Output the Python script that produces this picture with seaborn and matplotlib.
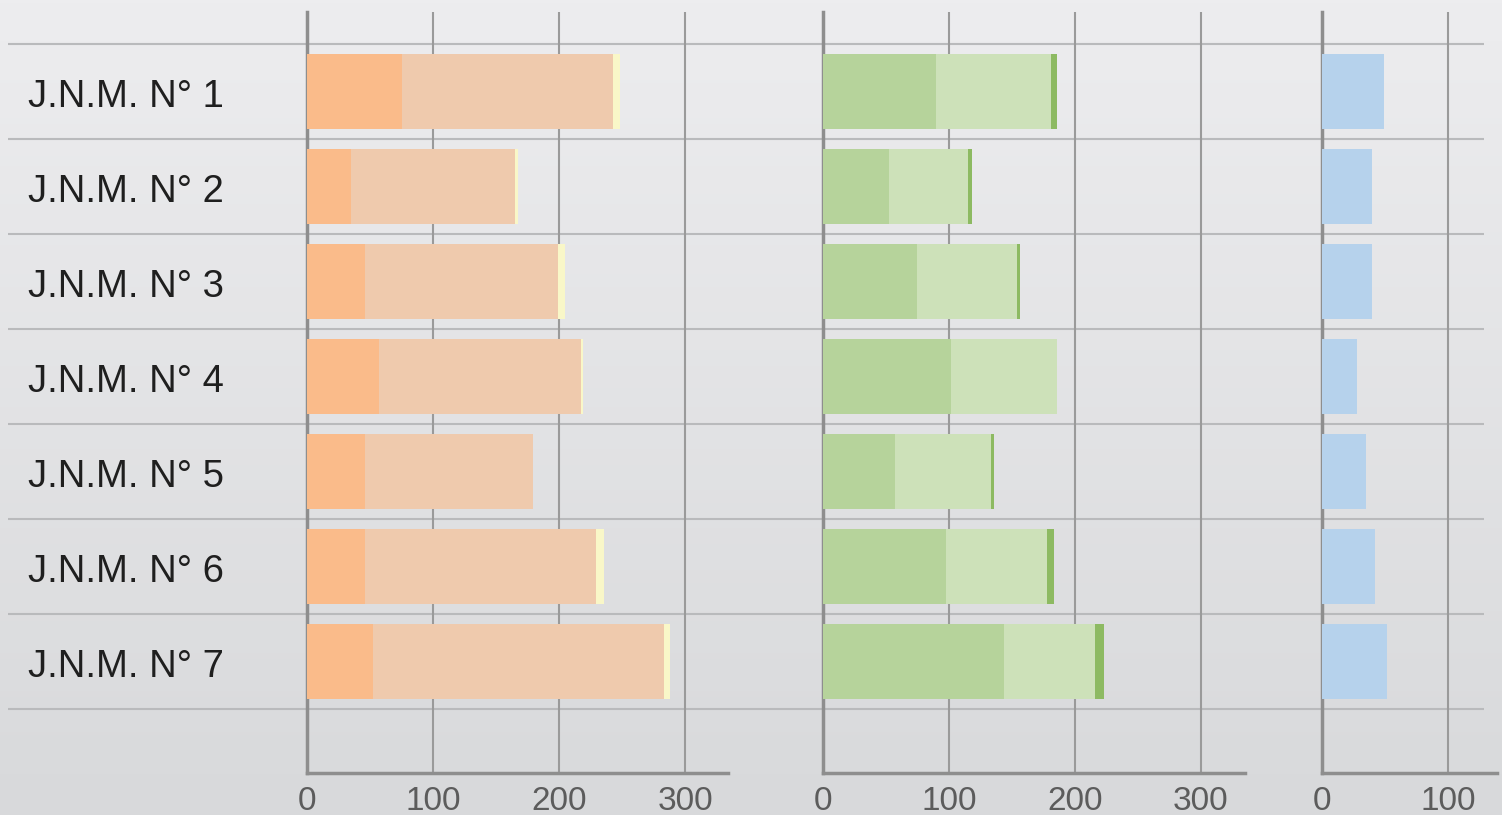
import numpy as np
import pandas as pd
import seaborn as sns
import matplotlib
matplotlib.use("Agg")
import matplotlib.pyplot as plt

# data
labels = ["J.N.M. N° 1", "J.N.M. N° 2", "J.N.M. N° 3", "J.N.M. N° 4",
          "J.N.M. N° 5", "J.N.M. N° 6", "J.N.M. N° 7"]

# panel 1 (orange stack)
orange_dark = [75, 35, 46, 57, 46, 46, 52]
orange_light = [168, 130, 153, 160, 133, 183, 231]
orange_tip = [5, 2, 6, 2, 0, 7, 5]

# panel 2 (green stack)
green_dark = [90, 52, 75, 102, 57, 98, 144]
green_light = [91, 63, 79, 84, 76, 80, 72]
green_tip = [5, 3, 2, 0, 3, 5, 7]

# panel 3 (single blue)
blue = [49, 40, 40, 28, 35, 42, 52]

W, H = 1502, 815
fig = plt.figure(figsize=(W / 100, H / 100), dpi=100)

# y layout in pixel terms
ax_bottom_px, ax_top_px = 773, 12
y_lo, y_hi = 7.17, -0.84
fb = (H - ax_bottom_px) / H
fh = (ax_bottom_px - ax_top_px) / H

# background gradient
bg = fig.add_axes([0, 0, 1, 1], zorder=-10)
grad = np.linspace(0, 1, 256).reshape(-1, 1)
cmap = matplotlib.colors.LinearSegmentedColormap.from_list("bg", ["#ededef", "#d8d9db"])
bg.imshow(grad, aspect="auto", cmap=cmap, extent=[0, 1, 0, 1], origin="upper")
bg.set_axis_off()

# full-width row lines + labels
rows = fig.add_axes([0, fb, 1, fh], zorder=-5)
rows.patch.set_alpha(0)
rows.set_xlim(0, W)
rows.set_ylim(y_lo, y_hi)
rows.hlines(np.arange(-0.5, 7, 1), 8, 1484, color="#b9babc", lw=1.5)
for i, lab in enumerate(labels):
    rows.text(28, i + 0.05, lab, fontsize=27.5, color="#1f1f1f", va="center", ha="left",
              family=["Liberation Sans", "DejaVu Sans"])
rows.set_axis_off()


def panel(left_px, right_px, xmax, ticks, layers):
    ax = fig.add_axes([left_px / W, fb, (right_px - left_px) / W, fh])
    ax.patch.set_alpha(0)
    # draw cumulative totals, largest first so the stack shows through
    cum = np.zeros(len(labels))
    totals = []
    for vals, col in layers:
        cum = cum + np.array(vals)
        totals.append((cum.copy(), col))
    for tot, col in reversed(totals):
        df = pd.DataFrame({"cat": labels, "val": tot})
        sns.barplot(data=df, x="val", y="cat", orient="h", color=col,
                    width=0.79, saturation=1, ax=ax, linewidth=0, zorder=3)
    ax.set_xlim(0, xmax)
    ax.set_ylim(y_lo, y_hi)
    ax.set_xticks(ticks)
    for t in ticks[1:]:
        ax.axvline(t, color="#9a9a9a", lw=1.5, zorder=1)
    ax.set_yticks([])
    ax.set_xlabel("")
    ax.set_ylabel("")
    for s in ["top", "right"]:
        ax.spines[s].set_visible(False)
    ax.spines["left"].set_color("#8e8e8e")
    ax.spines["left"].set_linewidth(2.5)
    ax.spines["bottom"].set_color("#8e8e8e")
    ax.spines["bottom"].set_linewidth(2.5)
    ax.tick_params(axis="x", length=0, pad=9, labelsize=24, labelcolor="#5c5c5c")
    for lab in ax.get_xticklabels():
        lab.set_family(["Liberation Sans", "DejaVu Sans"])
    return ax


panel(307, 728, 334, [0, 100, 200, 300],
      [(orange_dark, "#fabb8a"), (orange_light, "#efcaad"), (orange_tip, "#f9f7c8")])
panel(823, 1245, 335, [0, 100, 200, 300],
      [(green_dark, "#b6d39b"), (green_light, "#cde1b9"), (green_tip, "#8dba62")])
panel(1322, 1497, 139, [0, 100],
      [(blue, "#b6d2ec")])

fig.savefig("out.png", dpi=100)
